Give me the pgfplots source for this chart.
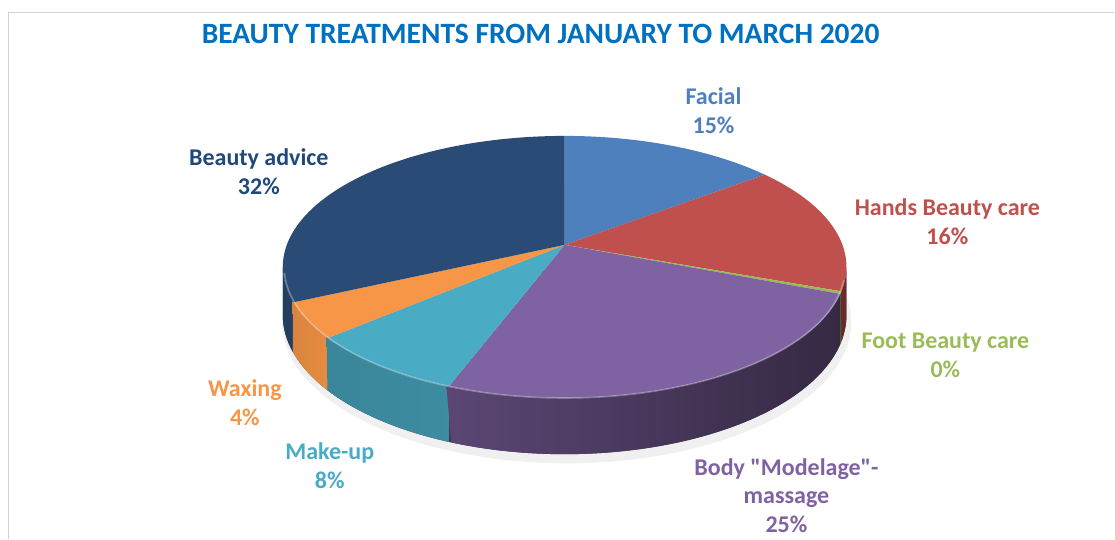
\documentclass[border=0pt]{standalone}
\usepackage{pgfplots}
\pgfplotsset{compat=1.18}
\usepackage{fontspec}
\setmainfont{Carlito}[Ligatures=TeXOff]
\definecolor{cFacial}{RGB}{78,128,189}
\definecolor{cHands}{RGB}{192,80,77}
\definecolor{cFoot}{RGB}{155,187,89}
\definecolor{cBody}{RGB}{127,98,161}
\definecolor{cMake}{RGB}{74,171,197}
\definecolor{cWax}{RGB}{247,150,70}
\definecolor{cBeauty}{RGB}{42,75,117}
\definecolor{lBeauty}{RGB}{31,73,125}
\definecolor{titleblue}{RGB}{0,112,192}
\definecolor{cFrame}{RGB}{210,210,210}
% data (percent)
\def\pFacial{14.6}
\def\pHands{16.0}
\def\pFoot{0.3}
\def\pBody{24.8}
\def\pMake{8.0}
\def\pWax{4.4}
\def\pBeauty{31.9}
\pgfmathsetmacro\aA{0}
\pgfmathsetmacro\aB{\aA+3.6*\pFacial}
\pgfmathsetmacro\aC{\aB+3.6*\pHands}
\pgfmathsetmacro\aD{\aC+3.6*\pFoot}
\pgfmathsetmacro\aE{\aD+3.6*\pBody}
\pgfmathsetmacro\aF{\aE+3.6*\pMake}
\pgfmathsetmacro\aG{\aF+3.6*\pWax}
\pgfmathsetmacro\aH{\aG+3.6*\pBeauty}
\pgfmathsetmacro\aGx{\aG+0.5}
\pgfmathsetmacro\aFx{\aF+0.5}
\pgfmathsetmacro\aEx{\aE+0.5}
\pgfmathsetmacro\aDx{\aD+0.3}
\pgfmathsetmacro\aCx{\aC+0.3}
\def\sL{99.7}
\def\sR{260.3}
\begin{document}
\begin{tikzpicture}
\begin{axis}[width=1115pt,height=539pt,scale only axis,
  xmin=0,xmax=1115,ymin=0,ymax=539,y dir=reverse,hide axis,clip=false,
  declare function={
    PX(\rr,\pp)=565+278*\rr*sin(\pp)/(1+0.168*\rr*cos(\pp));
    PY(\rr,\pp,\dd)=245+(-127.3*\rr*cos(\pp)+\dd)/(1+0.168*\rr*cos(\pp));
    WR(\t)=(\t<-0.005||\t>1.005)?0:1;
    WA(\t,\qa,\qb)=\qa+(\qb-\qa)*min(max(\t,0),1);
    LA(\t,\qa,\qb)=(\t<1.0001)?(\qa+(\qb-\qa)*\t):(\qb-(\qb-\qa)*(\t-1));
    LD(\t)=(\t<1.0001)?0:47;
  }]
% full picture area
\path (axis cs:0,0) rectangle (axis cs:1115,539);
% frame
\addplot[color=cFrame,line width=1.5pt,no markers] coordinates {(8.5,539) (8.5,12.5) (1115,12.5)};
% soft shadow
\addplot[draw=none,fill=black,opacity=0.06,no markers,variable=\t,domain=0:360,samples=120]
  ({PX(1.01,\t)+2},{PY(1.01,\t,53)});
% base wall
\addplot[draw=none,no markers,fill=cBody!50!black,variable=\t,domain=0:2,samples=201]
  ({PX(1,LA(\t,\sL,\sR))},{PY(1,LA(\t,\sL,\sR),LD(\t))});
% walls
\addplot[draw=none,no markers,left color=cBeauty!80!black,right color=cBeauty!85!black,variable=\t,domain=0:2,samples=201]
  ({PX(1,LA(\t,\aG,\sR))},{PY(1,LA(\t,\aG,\sR),LD(\t))});
\addplot[draw=none,no markers,left color=cWax!88!black,right color=cWax!93!black,variable=\t,domain=0:2,samples=201]
  ({PX(1,LA(\t,\aF,\aGx))},{PY(1,LA(\t,\aF,\aGx),LD(\t))});
\addplot[draw=none,no markers,left color=cMake!78!black,right color=cMake!82!black,variable=\t,domain=0:2,samples=201]
  ({PX(1,LA(\t,\aE,\aFx))},{PY(1,LA(\t,\aE,\aFx),LD(\t))});
\addplot[draw=none,no markers,left color=cBody!72!black,right color=cBody!42!black,variable=\t,domain=0:2,samples=201]
  ({PX(1,LA(\t,\aD,\aEx))},{PY(1,LA(\t,\aD,\aEx),LD(\t))});
\addplot[draw=none,no markers,fill=cFoot!50!black,variable=\t,domain=0:2,samples=51]
  ({PX(1,LA(\t,\aC,\aDx))},{PY(1,LA(\t,\aC,\aDx),LD(\t))});
\addplot[draw=none,no markers,fill=cHands!55!black,variable=\t,domain=0:2,samples=101]
  ({PX(1,LA(\t,\sL,\aCx))},{PY(1,LA(\t,\sL,\aCx),LD(\t))});
% top wedges
\addplot[draw=none,no markers,fill=cFacial,variable=\t,domain=-0.01:1.01,samples=103]
  ({PX(WR(\t),WA(\t,\aA,\aB))},{PY(WR(\t),WA(\t,\aA,\aB),0)});
\addplot[draw=none,no markers,fill=cHands,variable=\t,domain=-0.01:1.01,samples=103]
  ({PX(WR(\t),WA(\t,\aB,\aC))},{PY(WR(\t),WA(\t,\aB,\aC),0)});
\addplot[draw=none,no markers,fill=cFoot,variable=\t,domain=-0.01:1.01,samples=103]
  ({PX(WR(\t),WA(\t,\aC,\aD))},{PY(WR(\t),WA(\t,\aC,\aD),0)});
\addplot[draw=none,no markers,fill=cBody,variable=\t,domain=-0.01:1.01,samples=103]
  ({PX(WR(\t),WA(\t,\aD,\aE))},{PY(WR(\t),WA(\t,\aD,\aE),0)});
\addplot[draw=none,no markers,fill=cMake,variable=\t,domain=-0.01:1.01,samples=103]
  ({PX(WR(\t),WA(\t,\aE,\aF))},{PY(WR(\t),WA(\t,\aE,\aF),0)});
\addplot[draw=none,no markers,fill=cWax,variable=\t,domain=-0.01:1.01,samples=103]
  ({PX(WR(\t),WA(\t,\aF,\aG))},{PY(WR(\t),WA(\t,\aF,\aG),0)});
\addplot[draw=none,no markers,fill=cBeauty,variable=\t,domain=-0.01:1.01,samples=103]
  ({PX(WR(\t),WA(\t,\aG,\aH))},{PY(WR(\t),WA(\t,\aG,\aH),0)});
% rim highlight
\addplot[white,opacity=0.3,line width=1.6pt,no markers,variable=\t,domain=105:258,samples=100]
  ({PX(0.995,\t)},{PY(0.995,\t,1)});
% title
\node[anchor=base,text=titleblue,font=\fontsize{29.5}{35}\selectfont\bfseries] at (axis cs:541,44) {BEAUTY TREATMENTS FROM JANUARY TO MARCH 2020};
% labels
\tikzset{lab/.style={align=center,font=\fontsize{24}{29}\selectfont\bfseries}}
\node[lab,text=cFacial] at (axis cs:714,111) {Facial\\15\%};
\node[lab,text=cHands] at (axis cs:948,222) {Hands Beauty care\\16\%};
\node[lab,text=cFoot] at (axis cs:946,356) {Foot Beauty care\\0\%};
\node[lab,text=cBody] at (axis cs:787,496) {Body "Modelage"-\\massage\\25\%};
\node[lab,text=cMake] at (axis cs:330,466) {Make-up\\8\%};
\node[lab,text=cWax] at (axis cs:245,403) {Waxing\\4\%};
\node[lab,text=lBeauty] at (axis cs:259,172) {Beauty advice\\32\%};
\end{axis}
\end{tikzpicture}
\end{document}
